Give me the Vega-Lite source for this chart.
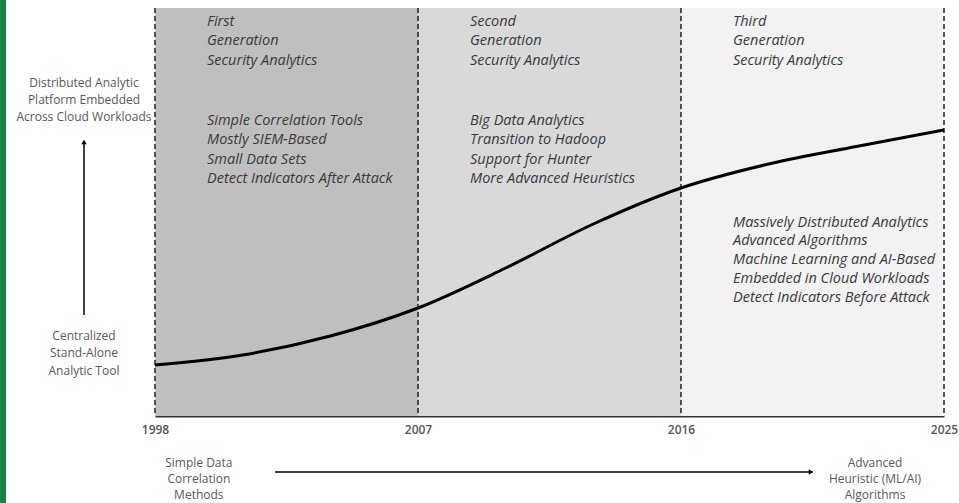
{
  "$schema": "https://vega.github.io/schema/vega-lite/v6.json",
  "width": 789,
  "height": 408,
  "autosize": {"type": "none"},
  "padding": {"left": 155, "top": 8, "right": 15, "bottom": 87},
  "background": "white",
  "config": {
    "view": {"stroke": null},
    "font": "Open Sans",
    "axisX": {"format": "d", "grid": false, "ticks": false, "domainColor": "#333333", "domainWidth": 2,
      "labelFontSize": 12, "labelFontWeight": 600, "labelColor": "#555555", "labelPadding": 8, "labelFlush": false, "labelBound": false,
      "labelOverlap": false, "labelFont": "Open Sans"}
  },
  "datasets": {
    "bands": [
      {"gen": "First", "start": 1998, "end": 2007},
      {"gen": "Second", "start": 2007, "end": 2016},
      {"gen": "Third", "start": 2016, "end": 2025}
    ],
    "dividers": [{"year": 1998}, {"year": 2007}, {"year": 2016}, {"year": 2025}],
    "curve": [
      {"year": 1998, "level": 51},
      {"year": 2001, "level": 61},
      {"year": 2004, "level": 80},
      {"year": 2007, "level": 108},
      {"year": 2010, "level": 148},
      {"year": 2013, "level": 192},
      {"year": 2016, "level": 228},
      {"year": 2019, "level": 252},
      {"year": 2022, "level": 269.5},
      {"year": 2025, "level": 286}
    ],
    "bandText": [
      {"start": 1998, "level": 394, "text": "First"},
      {"start": 1998, "level": 375, "text": "Generation"},
      {"start": 1998, "level": 355, "text": "Security Analytics"},
      {"start": 1998, "level": 295, "text": "Simple Correlation Tools"},
      {"start": 1998, "level": 276, "text": "Mostly SIEM-Based"},
      {"start": 1998, "level": 256, "text": "Small Data Sets"},
      {"start": 1998, "level": 237, "text": "Detect Indicators After Attack"},
      {"start": 2007, "level": 394, "text": "Second"},
      {"start": 2007, "level": 375, "text": "Generation"},
      {"start": 2007, "level": 355, "text": "Security Analytics"},
      {"start": 2007, "level": 295, "text": "Big Data Analytics"},
      {"start": 2007, "level": 276, "text": "Transition to Hadoop"},
      {"start": 2007, "level": 256, "text": "Support for Hunter"},
      {"start": 2007, "level": 237, "text": "More Advanced Heuristics"},
      {"start": 2016, "level": 394, "text": "Third"},
      {"start": 2016, "level": 375, "text": "Generation"},
      {"start": 2016, "level": 355, "text": "Security Analytics"},
      {"start": 2016, "level": 193, "text": "Massively Distributed Analytics"},
      {"start": 2016, "level": 175, "text": "Advanced Algorithms"},
      {"start": 2016, "level": 156, "text": "Machine Learning and AI-Based"},
      {"start": 2016, "level": 137, "text": "Embedded in Cloud Workloads"},
      {"start": 2016, "level": 118, "text": "Detect Indicators Before Attack"}
    ],
    "sideText": [
      {"year": 1995.57, "level": 333, "text": "Distributed Analytic"},
      {"year": 1995.57, "level": 316, "text": "Platform Embedded"},
      {"year": 1995.57, "level": 299, "text": "Across Cloud Workloads"},
      {"year": 1995.57, "level": 80, "text": "Centralized"},
      {"year": 1995.57, "level": 63, "text": "Stand-Alone"},
      {"year": 1995.57, "level": 45, "text": "Analytic Tool"},
      {"year": 1999.5, "level": -47, "text": "Simple Data"},
      {"year": 1999.5, "level": -63, "text": "Correlation"},
      {"year": 1999.5, "level": -79, "text": "Methods"},
      {"year": 2022.64, "level": -47, "text": "Advanced"},
      {"year": 2022.64, "level": -63, "text": "Heuristic (ML/AI)"},
      {"year": 2022.64, "level": -79, "text": "Algorithms"}
    ],
    "arrowShafts": [
      {"x": 1995.57, "y": 101, "x2": 1995.57, "y2": 272},
      {"x": 2002.11, "y": -56, "x2": 2020.4, "y2": -56}
    ],
    "arrowHeads": [
      {"x": 1995.57, "y": 274, "dir": "up"},
      {"x": 2020.45, "y": -56, "dir": "right"}
    ],
    "frame": [{"edge": "left"}]
  },
  "layer": [
    {
      "data": {"name": "bands"},
      "mark": {"type": "rect"},
      "encoding": {
        "x": {"field": "start", "type": "quantitative", "scale": {"domain": [1998, 2025], "nice": false, "zero": false}, "axis": {"values": [1998, 2007, 2016, 2025], "title": null}},
        "x2": {"field": "end"},
        "color": {"field": "gen", "type": "nominal", "scale": {"domain": ["First", "Second", "Third"], "range": ["#bfbfbf", "#d9d9d9", "#f2f2f2"]}, "legend": null}
      }
    },
    {
      "data": {"name": "dividers"},
      "mark": {"type": "rule", "strokeDash": [5, 3], "strokeWidth": 1.5, "color": "#222222"},
      "encoding": {
        "x": {"field": "year", "type": "quantitative", "scale": {"domain": [1998, 2025], "nice": false, "zero": false}, "axis": {"values": [1998, 2007, 2016, 2025], "title": null}}
      }
    },
    {
      "data": {"name": "curve"},
      "mark": {"type": "line", "interpolate": "monotone", "strokeWidth": 3, "color": "#000000"},
      "encoding": {
        "x": {"field": "year", "type": "quantitative", "scale": {"domain": [1998, 2025], "nice": false, "zero": false}, "axis": {"values": [1998, 2007, 2016, 2025], "title": null}},
        "y": {"field": "level", "type": "quantitative", "scale": {"domain": [0, 408], "nice": false, "zero": false}, "axis": null}
      }
    },
    {
      "data": {"name": "bandText"},
      "mark": {"type": "text", "align": "left", "baseline": "middle", "dx": 52, "fontStyle": "italic", "fontSize": 14.5, "color": "#3a3a3a"},
      "encoding": {
        "x": {"field": "start", "type": "quantitative", "scale": {"domain": [1998, 2025], "nice": false, "zero": false}, "axis": {"values": [1998, 2007, 2016, 2025], "title": null}},
        "y": {"field": "level", "type": "quantitative", "scale": {"domain": [0, 408], "nice": false, "zero": false}, "axis": null},
        "text": {"field": "text"}
      }
    },
    {
      "data": {"name": "sideText"},
      "mark": {"type": "text", "align": "center", "baseline": "middle", "fontSize": 12, "color": "#595959"},
      "encoding": {
        "x": {"field": "year", "type": "quantitative", "scale": {"domain": [1998, 2025], "nice": false, "zero": false}, "axis": {"values": [1998, 2007, 2016, 2025], "title": null}},
        "y": {"field": "level", "type": "quantitative", "scale": {"domain": [0, 408], "nice": false, "zero": false}, "axis": null},
        "text": {"field": "text"}
      }
    },
    {
      "data": {"name": "arrowShafts"},
      "mark": {"type": "rule", "strokeWidth": 1.5, "color": "#000000"},
      "encoding": {
        "x": {"field": "x", "type": "quantitative", "scale": {"domain": [1998, 2025], "nice": false, "zero": false}, "axis": {"values": [1998, 2007, 2016, 2025], "title": null}},
        "x2": {"field": "x2"},
        "y": {"field": "y", "type": "quantitative", "scale": {"domain": [0, 408], "nice": false, "zero": false}, "axis": null},
        "y2": {"field": "y2"}
      }
    },
    {
      "data": {"name": "arrowHeads"},
      "mark": {"type": "point", "filled": true, "size": 30, "opacity": 1, "color": "#000000"},
      "encoding": {
        "x": {"field": "x", "type": "quantitative", "scale": {"domain": [1998, 2025], "nice": false, "zero": false}, "axis": {"values": [1998, 2007, 2016, 2025], "title": null}},
        "y": {"field": "y", "type": "quantitative", "scale": {"domain": [0, 408], "nice": false, "zero": false}, "axis": null},
        "shape": {"field": "dir", "type": "nominal", "scale": {"domain": ["up", "right"], "range": ["triangle-up", "triangle-right"]}, "legend": null}
      }
    },
    {
      "data": {"name": "frame"},
      "mark": {"type": "rule", "strokeWidth": 6, "color": "#1e7d46"},
      "encoding": {
        "x": {"datum": 1992.8, "type": "quantitative", "scale": {"domain": [1998, 2025], "nice": false, "zero": false}, "axis": {"values": [1998, 2007, 2016, 2025], "title": null}},
        "y": {"datum": 416, "type": "quantitative", "scale": {"domain": [0, 408], "nice": false, "zero": false}, "axis": null},
        "y2": {"datum": -87}
      }
    }
  ]
}
